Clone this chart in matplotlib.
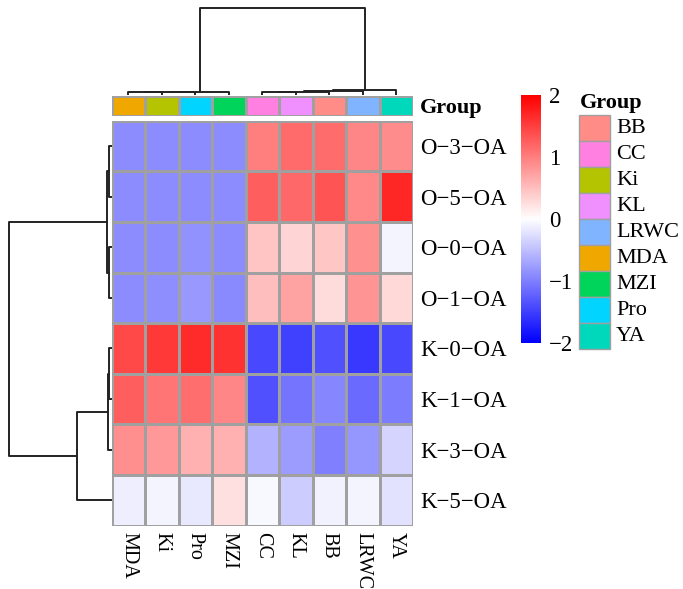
import numpy as np
import matplotlib
matplotlib.use("Agg")
import matplotlib.pyplot as plt
from matplotlib.colors import LinearSegmentedColormap, ListedColormap
from matplotlib.patches import Rectangle

plt.rcParams['font.family'] = ['Liberation Serif', 'DejaVu Serif']

# heatmap data (row-scaled values), in display order
cols = ['MDA', 'Ki', 'Pro', 'MZI', 'CC', 'KL', 'BB', 'LRWC', 'YA']
rows = ['O\u22123\u2212OA', 'O\u22125\u2212OA', 'O\u22120\u2212OA', 'O\u22121\u2212OA',
        'K\u22120\u2212OA', 'K\u22121\u2212OA', 'K\u22123\u2212OA', 'K\u22125\u2212OA']
values = np.array([
    [-0.90, -0.90, -0.90, -0.90, 1.00, 1.17, 1.15, 0.95, 0.90],
    [-0.90, -0.90, -0.90, -0.90, 1.26, 1.18, 1.33, 0.93, 1.69],
    [-0.90, -0.90, -0.85, -0.90, 0.46, 0.33, 0.44, 0.87, -0.08],
    [-0.90, -0.88, -0.80, -0.92, 0.51, 0.72, 0.27, 0.84, 0.30],
    [1.43, 1.56, 1.67, 1.60, -1.43, -1.50, -1.37, -1.56, -1.43],
    [1.25, 1.09, 1.14, 0.95, -1.37, -1.09, -0.95, -1.17, -1.03],
    [0.89, 0.80, 0.62, 0.62, -0.60, -0.78, -1.00, -0.82, -0.33],
    [-0.13, -0.08, -0.18, 0.24, -0.05, -0.40, -0.10, -0.08, -0.22],
])

# group annotation colours
groups = ['BB', 'CC', 'Ki', 'KL', 'LRWC', 'MDA', 'MZI', 'Pro', 'YA']
group_colors = ['#FF8C86', '#FF80E0', '#B4C400', '#F090FF', '#80B4FF',
                '#F0A800', '#00D45A', '#00D4FF', '#00D8BC']

# dendrogram merges: (child a, child b, height); leaves are 0..n-1 in display order
col_merges = [(0, 1, 0.020), (9, 2, 0.022), (10, 3, 0.025),
              (4, 5, 0.020), (12, 6, 0.028), (13, 7, 0.040), (14, 8, 0.045),
              (11, 15, 1.0)]
row_merges = [(0, 1, 0.012), (2, 3, 0.012), (8, 9, 0.035),
              (4, 5, 0.010), (11, 6, 0.020), (12, 7, 0.33),
              (10, 13, 1.0)]

W, H = 683, 589
fig = plt.figure(figsize=(W / 100, H / 100), dpi=100)


def add_ax(x0, y0, x1, y1):
    return fig.add_axes([x0 / W, 1 - y1 / H, (x1 - x0) / W, (y1 - y0) / H])


def draw_dendro(ax, merges, n, side):
    pos = list(np.arange(n) + 0.5)
    hts = [0.0] * n
    for a, b, h in merges:
        xs = [pos[a], pos[a], pos[b], pos[b]]
        ys = [hts[a], h, h, hts[b]]
        if side == 'top':
            ax.plot(xs, ys, color='#222222', lw=1.4, clip_on=False)
        else:
            ax.plot(ys, xs, color='#222222', lw=1.4, clip_on=False)
        pos.append((pos[a] + pos[b]) / 2)
        hts.append(h)
    ax.axis('off')


cmap = LinearSegmentedColormap.from_list('bwr_ph', ['#0000FF', '#FFFFFF', '#FF0000'])

# main heatmap
ax = add_ax(111.7, 120.7, 413, 525.5)
ax.pcolormesh(values, cmap=cmap, vmin=-2, vmax=2, edgecolors='#A0A0A0', linewidth=1.0)
ax.set_xlim(0, len(cols))
ax.set_ylim(len(rows), 0)
for s in ax.spines.values():
    s.set_visible(False)
ax.yaxis.tick_right()
ax.set_yticks(np.arange(len(rows)) + 0.5)
ax.set_yticklabels(rows, fontsize=16.5)
ax.set_xticks(np.arange(len(cols)) + 0.5)
ax.set_xticklabels(cols, fontsize=14.5, rotation=270, va='top')
ax.tick_params(length=0, pad=5)

# annotation bar
ax_a = add_ax(111.7, 96, 413, 116)
col_idx = [groups.index(c) for c in cols]
ann_cmap = ListedColormap(group_colors)
ax_a.pcolormesh(np.array([col_idx]), cmap=ann_cmap, vmin=-0.5, vmax=len(groups) - 0.5,
                edgecolors='#A0A0A0', linewidth=1.0)
ax_a.set_xlim(0, len(cols))
ax_a.set_ylim(1, 0)
ax_a.set_xticks([])
ax_a.yaxis.tick_right()
ax_a.set_yticks([0.5])
ax_a.set_yticklabels(['Group'], fontsize=16, fontweight='bold')
ax_a.tick_params(length=0, pad=5)
for s in ax_a.spines.values():
    s.set_visible(False)

# column dendrogram
ax_cd = add_ax(111.7, 8, 413, 94)
draw_dendro(ax_cd, col_merges, len(cols), 'top')
ax_cd.set_xlim(0, len(cols))
ax_cd.set_ylim(0, 1)

# row dendrogram
ax_rd = add_ax(9, 120.7, 110.5, 525.5)
draw_dendro(ax_rd, row_merges, len(rows), 'left')
ax_rd.set_xlim(1, 0)
ax_rd.set_ylim(len(rows), 0)

# colour bar
ax_cb = add_ax(521, 95, 541, 343)
grad = np.linspace(-2, 2, 256).reshape(-1, 1)
ax_cb.imshow(grad, cmap=cmap, vmin=-2, vmax=2, aspect='auto', origin='lower',
             extent=[0, 1, -2, 2])
ax_cb.set_xticks([])
ax_cb.yaxis.tick_right()
ax_cb.set_yticks([-2, -1, 0, 1, 2])
ax_cb.set_yticklabels(['\u22122', '\u22121', '0', '1', '2'], fontsize=16.5)
ax_cb.tick_params(length=0, pad=6)
for s in ax_cb.spines.values():
    s.set_visible(False)

# group legend
ax_lg = add_ax(575, 90, 683, 352)
ax_lg.set_xlim(575, 683)
ax_lg.set_ylim(352, 90)
ax_lg.axis('off')
ax_lg.text(580, 103, 'Group', fontsize=16, fontweight='bold', va='center', ha='left')
for i, (g, c) in enumerate(zip(groups, group_colors)):
    y0 = 115 + i * 26
    ax_lg.add_patch(Rectangle((579, y0), 31, 26, facecolor=c, edgecolor='#A0A0A0', lw=1.0))
    ax_lg.text(616, y0 + 13.5, g, fontsize=16, va='center', ha='left')

fig.savefig('out.png', dpi=100)
